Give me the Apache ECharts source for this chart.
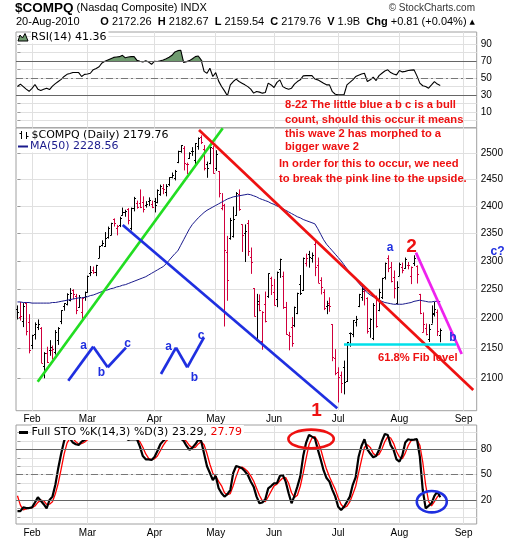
<!DOCTYPE html>
<html><head><meta charset="utf-8">
<script src="https://cdn.jsdelivr.net/npm/echarts@6/dist/echarts.min.js"></script>
<style>html,body{margin:0;padding:0;background:#fff}#c{width:520px;height:540px}</style>
</head><body><div id="c"></div><script>
// ---- axis definitions (trading-day index: 0 = 25-Jan-2010) ----
const monthTickIdx = [5, 24, 47, 68, 88, 110, 131, 153];
const monthLabels = ['Feb', 'Mar', 'Apr', 'May', 'Jun', 'Jul', 'Aug', 'Sep'];
const priceTicks = [2100, 2150, 2200, 2250, 2300, 2350, 2400, 2450, 2500];
const rsiTickLabels = [10, 30, 50, 70, 90];
const stoTickLabels = [20, 50, 80];
const prevCloseBeforeStart = 2205.3;

// ---- daily OHLC, 25-Jan-2010 .. 20-Aug-2010 ----
const open = [2216,2203,2195,2226,2194,
2155,2174,2185,2183,2120,2142,2146,2146,2143,2163,2196,2221,2224,2232,2248,2239,2219,2210,2237,
2245,2278,2284,2281,2305,2328,2327,2343,2347,2376,2360,2365,2383,2388,2394,2359,2397,2405,2405,2408,2401,2409,2404,
2409,2408,2423,2434,2426,2441,2455,2452,2483,2505,2511,2479,2490,2504,2487,2515,2531,2509,2479,2481,2511,
2471,2466,2397,2402,2316,2342,2345,2383,2423,2366,2351,2368,2307,2252,2163,2225,2162,2225,2238,2270,
2245,2233,2286,2273,2220,2172,2185,2188,2209,2259,2248,2296,2313,2305,2331,2293,2266,2245,2221,2227,2190,2134,
2111,2106,2119,2096,2175,2173,2194,2221,2236,2247,2235,2184,2166,2237,2214,2237,2272,2306,2289,2272,2227,
2274,2290,2288,2293,2274,2297,2291,2241,2177,2183,2165,2191,2207,2211,2172.26];
const high = [2222,2228,2226,2227,2207,
2172,2193,2198,2185,2143,2152,2163,2154,2180,2185,2214,2226,2243,2252,2250,2242,2240,2236,2246,
2274,2291,2290,2293,2327,2337,2352,2362,2369,2377,2365,2380,2397,2393,2396,2397,2417,2410,2431,2418,2409,2416,2410,
2415,2431,2440,2441,2441,2454,2463,2468,2505,2516,2514,2482,2502,2512,2520,2531,2535,2516,2484,2514,2514,
2506,2466,2424,2404,2345,2378,2399,2426,2431,2366,2366,2374,2324,2252,2242,2241,2212,2246,2278,2272,
2268,2281,2304,2281,2228,2177,2202,2220,2244,2275,2306,2313,2318,2315,2336,2306,2271,2250,2230,2236,2190,2148,
2118,2111,2129,2160,2176,2197,2204,2242,2257,2254,2236,2200,2226,2239,2251,2270,2297,2310,2298,2283,2264,
2297,2297,2306,2298,2290,2310,2292,2242,2210,2191,2190,2222,2228,2215,2182.67];
const low = [2198,2196,2185,2171,2141,
2148,2164,2180,2125,2100,2125,2137,2131,2139,2155,2190,2213,2222,2229,2233,2207,2218,2197,2230,
2244,2273,2277,2273,2305,2326,2325,2340,2346,2362,2346,2361,2382,2380,2366,2355,2390,2395,2396,2388,2397,2400,2396,
2388,2405,2419,2422,2418,2437,2452,2448,2481,2501,2467,2460,2489,2495,2478,2507,2518,2467,2453,2479,2461,
2466,2416,2392,2186,2230,2338,2342,2382,2391,2316,2298,2309,2277,2203,2162,2212,2147,2193,2235,2240,
2222,2219,2270,2216,2172,2146,2152,2185,2207,2240,2247,2290,2288,2297,2273,2261,2241,2214,2207,2211,2128,2105,
2061,2076,2074,2094,2152,2168,2186,2219,2230,2222,2174,2167,2163,2184,2212,2233,2267,2280,2262,2234,2224,
2273,2278,2286,2285,2259,2291,2260,2207,2176,2171,2160,2191,2203,2170,2159.54];
const close = [2210.80,2203.73,2221.41,2179.00,2147.35,
2171.20,2190.06,2190.91,2125.43,2141.12,2126.05,2150.87,2147.87,2177.41,2183.53,2214.19,2226.29,2241.71,2243.87,2242.03,2213.44,2235.90,2234.22,2238.26,
2273.57,2280.79,2280.68,2292.31,2326.35,2332.21,2340.68,2358.95,2368.46,2367.66,2362.21,2378.01,2389.09,2391.28,2374.41,2395.40,2415.24,2398.76,2397.41,2395.13,2404.36,2410.69,2397.96,
2402.58,2429.53,2436.81,2431.16,2436.81,2454.05,2457.87,2465.99,2504.86,2515.69,2481.26,2480.11,2500.31,2504.61,2519.07,2530.15,2522.95,2471.47,2471.73,2511.92,2461.19,
2498.74,2424.25,2402.29,2319.64,2265.64,2374.67,2375.31,2425.02,2394.36,2346.85,2354.23,2317.26,2298.37,2204.01,2229.04,2213.55,2210.95,2195.88,2277.68,2257.04,
2222.33,2281.07,2303.03,2219.17,2173.90,2170.57,2158.85,2218.71,2243.60,2243.96,2305.93,2305.88,2307.16,2309.80,2289.09,2261.80,2254.23,2217.42,2223.48,2220.65,2135.18,2109.24,
2101.36,2091.79,2093.88,2159.47,2175.40,2196.45,2198.36,2242.03,2249.84,2249.08,2179.05,2198.23,2222.49,2187.33,2245.89,2269.47,2296.43,2288.25,2264.56,2251.69,2254.70,
2295.36,2283.52,2303.57,2293.06,2288.47,2305.69,2277.17,2208.63,2190.27,2173.48,2181.87,2209.44,2215.70,2178.95,2179.76];

// ---- MA(50) ----
const ma50 = [2228,2228,2227,2227,2227,2226,2226,2226,2226,2226,2226,2226,2227,2227,2228,2229,2230,2231,2232,2233,2234,2235,2235,2236,2237,
2239,2240,2242,2244,2246,2248,2249,2251,2252,2254,2255,2257,2258,2260,2262,2264,2266,2268,2270,2272,2275,2278,2281,2284,2287,2290,
2295,2301,2307,2313,2318,2328,2338,2348,2358,2366,2372,2378,2383,2388,2392,2395,2398,2401,2404,2407,2410,2413,2415,2417,2418,2419,
2420,2421,2422,2421,2419,2417,2414,2412,2410,2408,2405,2403,2400,2398,2395,2392,2389,2386,2383,2380,2378,2375,2373,2371,2369,2367,
2358,2348,2338,2330,2324,2318,2312,2306,2300,2293,2286,2280,2274,2267,2261,2255,2249,2244,2240,2237,2234,2231,2229,2227,2226,2225,
2224,2224,2224,2224,2225,2226,2227,2229,2230,2231,2230,2229,2228,2228,2229,2229,2228.56];

// ---- RSI(14) ----
const rsi14 = [40.2,43,40,37,34.5,38,42.5,37,35.5,37,38.2,36.5,40.5,43.5,46,48.5,52,54.5,55.5,56.6,56.6,56.6,51.9,54.5,55,
55.8,60,61.5,63.5,68,70,71.5,73,74.5,75,75.4,77,74,75,75.4,75.4,71,70,69.2,70.5,69,66.4,70,69.6,70.5,71.5,73,74.7,77,81,
82.5,83,68.4,69.5,70.7,73,75.4,76.2,71.5,58,55.8,61.7,51.9,56.6,46.5,40.2,35,29.2,42.1,46,48.8,46,44.1,42.1,40,37,32.3,34.3,
33.5,32.3,33.1,44.1,42,39,45,48,40,38.2,37,38.2,43,46,48,52.7,53,53,53.1,49,48,46,44,42.1,42.1,34,31,30.4,30.4,30.4,42.1,45,
48,51.9,53.5,55,55.8,46,48,51.1,47.2,53,55.8,58.5,59.8,56.6,55,53.9,59,57.4,58,59,59.5,59.8,52.7,44.1,41,40.2,38.2,42,46,43,41.36];

// ---- Full STO %K(14,3) and %D(3) ----
const stoK = [6.9,6.9,11.3,10.5,10.5,11.3,17,23.2,19.2,15,10.1,20,24,38,58,75,90,97,93,88,86,85.2,89,91,93.5,96,98,99,99.5,98,
97,98,99,98,97,96,97,94,91.1,91.9,92,91.9,83.2,72,68.2,68,67.4,71,78,86,90,93,95,97,99,97,93,90,84,79.3,82,86,91.1,90,75,60,
52,43.7,48.4,34,28,24,27,31.8,52,60.3,59,57.5,54,49.6,42,35.8,24,16.1,17,21,33.8,36.5,39.8,40,48.4,49.6,41.7,28,16.1,25,35.8,
48,72,88,97,95,93.1,80,68,55,46,41.7,32,24,12,8.2,12.1,18,24,38,47,71.3,84,91.9,80,75,70.6,72,79.3,90,98.2,97,85,79.3,68,65.4,
73,88,91.9,91.1,91.5,92,71.3,31.8,10.1,13,16.1,25,29.9,23.29];
const stoD = [25,14,8.4,9.6,10.8,10.8,12.9,17.2,19.8,19.1,14.8,15.1,18,27.3,40,57,74.3,87.3,93.3,92.7,89,86.4,86.7,88.4,91.2,
93.5,95.8,97.7,98.8,98.8,98.2,97.7,98,98.3,98,97,96.7,95.7,94,92.3,91.7,91.9,89,82.4,74.5,69.4,67.9,68.8,72.1,78.3,84.7,89.7,
92.7,95,97,97.7,96.3,93.3,89,84.4,81.8,82.4,86.4,89,85.4,75,62.3,51.9,48,42,36.8,28.7,26.3,27.6,36.9,48,57.1,58.9,56.8,53.7,
48.5,42.5,33.9,25.3,19,18,23.9,30.4,36.7,38.8,42.7,46,46.6,39.8,28.6,23,25.6,36.3,51.9,69.3,85.7,93.3,95,89.4,80.4,67.7,56.3,
47.6,39.9,32.6,22.7,14.7,10.8,12.8,18,26.7,36.3,52.1,67.4,82.4,85.3,82.3,75.2,72.5,74,80.4,89.2,95.1,93.4,87.1,77.4,70.9,68.8,
75.5,84.3,90.3,91.5,91.5,84.9,65,37.7,18.3,13.1,18,23.7,27.79];

// ---- hand-drawn annotations, in data coordinates [dayIndex, price] ----
const trendLines = [
  { pts: [[6.94, 2094.5], [70.4, 2549]], color: '#22dd22' },
  { pts: [[62.26, 2545.5], [156.32, 2081]], color: '#ee1111' },
  { pts: [[36.09, 2364.9], [109.68, 2051.7]], color: '#1f2fe0' },
  { pts: [[136.67, 2314.7], [152.35, 2139.9]], color: '#ee22ee' },
  { pts: [[111.98, 2156.6], [150.4, 2156.6]], color: '#00e0ea' },
  { pts: [[17.43, 2096.1], [26.0, 2152.1], [30.95, 2118.0], [37.22, 2150.4]], color: '#1f2fe0' },
  { pts: [[49.22, 2107.0], [54.37, 2150.4], [58.24, 2118.0], [63.97, 2167.8]], color: '#1f2fe0' }
];
const stoCircles = [
  { at: [100.7, 92.3], rx: 22.7, ry: 9.3, color: '#ee1111' },
  { at: [142.1, 18], rx: 15, ry: 10.7, color: '#1f2fe0' }
];

// ---------------------------------------------------------------
const L = 16, R = 520 - 476.7;
const LN = Math.log;
const ohlcData = close.map((c, i) => {
  const pc = i === 0 ? prevCloseBeforeStart : close[i - 1];
  return [i, LN(open[i]), LN(high[i]), LN(low[i]), LN(c), c >= pc ? 1 : 0];
});
const gridCol = '#e0e0e0';
const axisFont = { fontFamily: 'Liberation Sans', fontSize: 10, color: '#000' };

function xAx(gi, showLabel) {
  return {
    type: 'value', gridIndex: gi, min: -0.5, max: 157.5,
    axisLine: { show: false },
    axisTick: { show: false, customValues: monthTickIdx },
    splitLine: { show: true, lineStyle: { color: gridCol, width: 1 } },
    axisLabel: Object.assign({ show: showLabel, customValues: monthTickIdx, margin: 4,
      formatter: v => monthLabels[monthTickIdx.indexOf(v)] || '' }, axisFont)
  };
}
function yAx(gi, min, max, ticks, labels, fmt) {
  return {
    type: 'value', gridIndex: gi, position: 'right', min: min, max: max,
    axisLine: { show: false },
    axisTick: { show: true, length: 3, customValues: ticks, lineStyle: { color: '#999' } },
    splitLine: { show: true, lineStyle: { color: gridCol, width: 1 } },
    axisLabel: Object.assign({ show: true, customValues: labels, margin: 4, formatter: fmt || (v => String(v)) }, axisFont)
  };
}
const pctTicks = [0, 10, 20, 30, 40, 50, 60, 70, 80, 90, 100];
const refLine = (vals, dashVal) => ({
  silent: true, symbol: ['none', 'none'], label: { show: false }, animation: false,
  data: vals.map(v => ({ yAxis: v, lineStyle: { color: '#666', width: 1, type: 'solid' } }))
    .concat([{ yAxis: dashVal, lineStyle: { color: '#777', width: 1, type: [7, 3, 2, 3] } }])
});

const annoMark = [];
trendLines.forEach(t => {
  for (let k = 0; k < t.pts.length - 1; k++) {
    annoMark.push([
      { coord: [t.pts[k][0], LN(t.pts[k][1])], lineStyle: { color: t.color, width: 2.7, type: 'solid' } },
      { coord: [t.pts[k + 1][0], LN(t.pts[k + 1][1])] }
    ]);
  }
});

function txt(x, y, text, font, fill, align, extra) {
  return { type: 'text', z: 100, silent: true,
    style: Object.assign({ x: x, y: y, text: text, font: font, fill: fill || '#000', align: align || 'left', verticalAlign: 'middle' }, extra || {}) };
}
const redFont = 'bold 11.2px "Liberation Sans"';
const blueFont = 'bold 12px "Liberation Sans"';
const legFont = '11px "DejaVu Sans"';
const blue = '#1f2fe0', red = '#ee1111';

const graphics = [
  txt(15, 8, '{b|$COMPQ} {n|(Nasdaq Composite) INDX}', '11px "Liberation Sans"', '#000', 'left',
    { rich: { b: { font: 'bold 13.5px "Liberation Sans"', fill: '#000' }, n: { font: '11px "Liberation Sans"', fill: '#000' } } }),
  txt(475, 8, '© StockCharts.com', '10px "Liberation Sans"', '#333', 'right'),
  txt(16, 22, '20-Aug-2010', '11px "Liberation Sans"'),
  txt(475, 22, '{b|O} 2172.26  {b|H} 2182.67  {b|L} 2159.54  {b|C} 2179.76  {b|V} 1.9B  {b|Chg} +0.81 (+0.04%) {t|▲}',
    '11px "Liberation Sans"', '#000', 'right',
    { rich: { b: { font: 'bold 11px "Liberation Sans"', fill: '#000' }, t: { font: '7px "DejaVu Sans"', fill: '#000' } } }),
  // panel legends
  { type: 'polygon', z: 100, shape: { points: [[18, 41], [20, 35], [22.5, 38], [25, 33.5], [28, 41]] }, style: { fill: '#6e9a6e', stroke: '#000', lineWidth: 1 } },
  txt(31, 37, 'RSI(14) 41.36', legFont, '#000', 'left', { backgroundColor: '#fff', padding: [1, 2, 1, 0] }),
  { type: 'line', z: 100, shape: { x1: 21.5, y1: 131, x2: 21.5, y2: 139 }, style: { stroke: '#000', lineWidth: 1 } },
  { type: 'line', z: 100, shape: { x1: 19.5, y1: 133.5, x2: 21.5, y2: 133.5 }, style: { stroke: '#000', lineWidth: 1 } },
  { type: 'line', z: 100, shape: { x1: 26.5, y1: 132, x2: 26.5, y2: 139 }, style: { stroke: '#000', lineWidth: 1 } },
  { type: 'line', z: 100, shape: { x1: 26.5, y1: 136.5, x2: 28.5, y2: 136.5 }, style: { stroke: '#000', lineWidth: 1 } },
  txt(31.5, 135, '$COMPQ (Daily) 2179.76', legFont, '#000', 'left', { backgroundColor: '#fff', padding: [1, 2, 0, 0] }),
  { type: 'line', z: 100, shape: { x1: 18, y1: 146.5, x2: 28, y2: 146.5 }, style: { stroke: '#1a1a8c', lineWidth: 2 } },
  txt(30, 146.5, 'MA(50) 2228.56', legFont, '#1a1a8c', 'left', { backgroundColor: '#fff', padding: [0, 2, 1, 0] }),
  { type: 'line', z: 100, shape: { x1: 19, y1: 432.5, x2: 28, y2: 432.5 }, style: { stroke: '#000', lineWidth: 3 } },
  txt(31.5, 432.5, '{k|Full STO %K(14,3) %D(3) 23.29,} {d|27.79}', legFont, '#000', 'left',
    { backgroundColor: '#fff', padding: [2, 2, 2, 0], rich: { k: { font: legFont, fill: '#000' }, d: { font: legFont, fill: '#ee0000' } } }),
  // red commentary
  txt(285, 105, '8-22 The little blue a b c is a bull', redFont, red),
  txt(285, 119.5, 'count, should this occur it means', redFont, red),
  txt(285, 134, 'this wave 2 has morphed to a', redFont, red),
  txt(285, 147, 'bigger wave 2', redFont, red),
  txt(279, 164, 'In order for this to occur, we need', redFont, red),
  txt(279, 178.5, 'to break the pink line to the upside.', redFont, red),
  txt(378, 357.5, '61.8% Fib level', redFont, red),
  // wave labels
  txt(83.5, 346, 'a', blueFont, blue, 'center'),
  txt(101.5, 372.5, 'b', blueFont, blue, 'center'),
  txt(127.5, 344, 'c', blueFont, blue, 'center'),
  txt(168.5, 347, 'a', blueFont, blue, 'center'),
  txt(194.5, 378, 'b', blueFont, blue, 'center'),
  txt(201, 335.5, 'c', blueFont, blue, 'center'),
  txt(390, 247.5, 'a', blueFont, blue, 'center'),
  txt(453, 338, 'b', blueFont, blue, 'center'),
  txt(497.5, 251.5, 'c?', blueFont, blue, 'center'),
  txt(411.5, 247, '2', 'bold 19px "Liberation Sans"', red, 'center'),
  txt(316.5, 410.5, '1', 'bold 19px "Liberation Sans"', red, 'center')
];

const option = {
  animation: false,
  backgroundColor: '#fff',
  grid: [
    { left: L, right: R, top: 32, height: 95.7, show: true, borderColor: '#a0a0a0', borderWidth: 1, backgroundColor: '#fff' },
    { left: L, right: R, top: 128, height: 282.7, show: true, borderColor: '#a0a0a0', borderWidth: 1, backgroundColor: '#fff' },
    { left: L, right: R, top: 425, height: 99, show: true, borderColor: '#a0a0a0', borderWidth: 1, backgroundColor: '#fff' }
  ],
  xAxis: [xAx(0, false), xAx(1, true), xAx(2, true)],
  yAxis: [
    yAx(0, -8.5, 104.5, pctTicks, rsiTickLabels),
    yAx(1, LN(2100) - 32.4 / 1290.5, LN(2100) + 250.3 / 1290.5, priceTicks.map(LN), priceTicks.map(LN), v => String(Math.round(Math.exp(v)))),
    yAx(2, -8.4, 108.8, pctTicks, stoTickLabels)
  ],
  series: [
    { type: 'line', xAxisIndex: 0, yAxisIndex: 0, data: rsi14.map((v, i) => [i, Math.max(v, 70)]), symbol: 'none',
      lineStyle: { width: 0 }, areaStyle: { origin: 70, color: '#6e9a6e', opacity: 1 }, z: 2, silent: true },
    { type: 'line', xAxisIndex: 0, yAxisIndex: 0, data: rsi14.map((v, i) => [i, v]), symbol: 'none',
      lineStyle: { color: '#000', width: 1.1 }, z: 3, markLine: refLine([70, 30], 50) },
    { type: 'custom', xAxisIndex: 1, yAxisIndex: 1, data: ohlcData, encode: { x: 0, y: [1, 2, 3, 4] }, z: 3,
      renderItem: function (params, api) {
        const i = api.value(0);
        const h = api.coord([i, api.value(2)]);
        const l = api.coord([i, api.value(3)]);
        const o = api.coord([i, api.value(1)]);
        const c = api.coord([i, api.value(4)]);
        const col = api.value(5) ? '#000' : '#d0003c';
        const x = Math.round(h[0]) + 0.5;
        const oy = Math.round(o[1]) + 0.5, cy = Math.round(c[1]) + 0.5;
        return { type: 'group', children: [
          { type: 'line', shape: { x1: x, y1: h[1], x2: x, y2: l[1] }, style: { stroke: col, lineWidth: 1 } },
          { type: 'line', shape: { x1: x - 1.5, y1: oy, x2: x, y2: oy }, style: { stroke: col, lineWidth: 1 } },
          { type: 'line', shape: { x1: x, y1: cy, x2: x + 1.5, y2: cy }, style: { stroke: col, lineWidth: 1 } }
        ] };
      } },
    { type: 'line', xAxisIndex: 1, yAxisIndex: 1, data: ma50.map((v, i) => [i, LN(v)]), symbol: 'none',
      lineStyle: { color: '#1a1a8c', width: 1 }, z: 4,
      markLine: { silent: true, symbol: ['none', 'none'], label: { show: false }, animation: false, data: annoMark, z: 10 } },
    { type: 'line', xAxisIndex: 2, yAxisIndex: 2, data: stoD.map((v, i) => [i, v]), symbol: 'none',
      lineStyle: { color: '#ff0000', width: 1.3 }, z: 3, markLine: refLine([80, 20], 50) },
    { type: 'line', xAxisIndex: 2, yAxisIndex: 2, data: stoK.map((v, i) => [i, v]), symbol: 'none',
      lineStyle: { color: '#000', width: 2.2 }, z: 4 },
    { type: 'custom', xAxisIndex: 2, yAxisIndex: 2, z: 8, clip: false,
      data: stoCircles.map(s => [s.at[0], s.at[1], s.rx, s.ry]),
      renderItem: function (params, api) {
        const p = api.coord([api.value(0), api.value(1)]);
        const s = stoCircles[params.dataIndex];
        return { type: 'ellipse', shape: { cx: p[0], cy: p[1], rx: api.value(2), ry: api.value(3) },
          style: { fill: 'none', stroke: s.color, lineWidth: 2.6 } };
      } }
  ],
  graphic: { elements: graphics }
};
const chart = echarts.init(document.getElementById('c'), null, { renderer: 'canvas' });
chart.setOption(option);
</script></body></html>
